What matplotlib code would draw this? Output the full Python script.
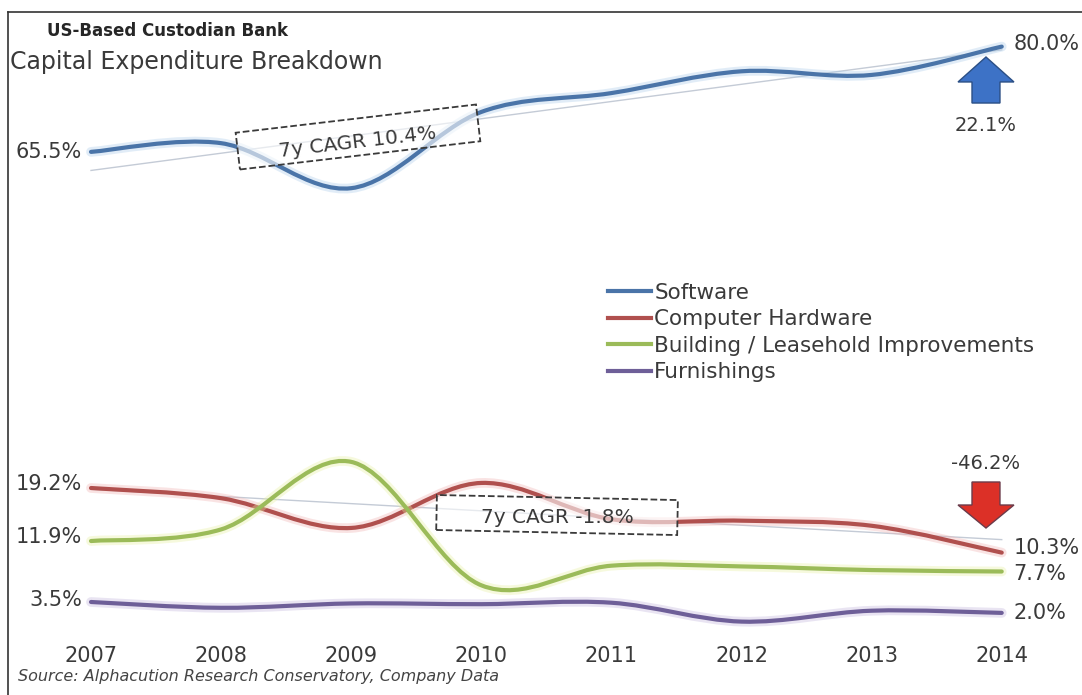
import numpy as np
import matplotlib
matplotlib.use('Agg')
import matplotlib.pyplot as plt
import matplotlib.transforms as mtransforms
import matplotlib.patheffects as pe
from matplotlib.path import Path
from matplotlib.patches import PathPatch, Rectangle, FancyArrow
from matplotlib.lines import Line2D

# data (share of capex, %)
years = [2007, 2008, 2009, 2010, 2011, 2012, 2013, 2014]
software = [65.5, 66.7, 60.5, 71.0, 73.6, 76.6, 76.1, 80.0]
hardware = [19.2, 17.8, 13.7, 19.9, 14.9, 14.7, 14.0, 10.3]
building = [11.9, 13.5, 22.8, 5.8, 8.5, 8.4, 7.9, 7.7]
furnishings = [3.5, 2.7, 3.3, 3.2, 3.4, 0.8, 2.3, 2.0]

series_names = ['Software', 'Computer Hardware', 'Building / Leasehold Improvements', 'Furnishings']
start_labels = ['65.5%', '19.2%', '11.9%', '3.5%']
end_labels = ['80.0%', '10.3%', '7.7%', '2.0%']
cagr_labels = ['7y CAGR 10.4%', '7y CAGR -1.8%']
change_labels = ['22.1%', '-46.2%']

colors = ['#4a74a8', '#b0504e', '#9bbb59', '#6e5f98']
glows = ['#a9cbea', '#f0b0b0', '#e6f0a0', '#c0b4dc']
txt = '#3a3a3a'


def smooth_path(x, y):
    # excel-like smoothed line: catmull-rom turned into cubic beziers
    pts = np.column_stack([x, y]).astype(float)
    ext = np.vstack([pts[0], pts, pts[-1]])
    verts = [pts[0]]
    codes = [Path.MOVETO]
    for i in range(len(pts) - 1):
        p0, p1, p2, p3 = ext[i], ext[i + 1], ext[i + 2], ext[i + 3]
        verts += [p1 + (p2 - p0) / 6, p2 - (p3 - p1) / 6, p2]
        codes += [Path.CURVE4] * 3
    return Path(verts, codes)


fig = plt.figure(figsize=(10.82, 6.95), dpi=100)
ax = fig.add_axes([0, 0, 1, 1])
ax.set_xlim(2006.3005, 2014.617)
ax.set_ylim(-9.31, 86.42)
ax.axis('off')

all_series = [software, hardware, building, furnishings]

# linear trend lines behind software and hardware
for vals in [software, hardware]:
    coef = np.polyfit(years, vals, 1)
    ends = [years[0], years[-1]]
    ax.plot(ends, np.polyval(coef, ends), color='#c4cbd6', lw=1, zorder=2)

for vals, c, g in zip(all_series, colors, glows):
    patch = PathPatch(smooth_path(years, vals), fc='none', ec=c, lw=3, capstyle='round', zorder=3,
                      path_effects=[pe.Stroke(linewidth=7, foreground=g, alpha=0.35), pe.Normal()])
    ax.add_patch(patch)

# start / end value labels
start_dy = [0, 4, 4, 2]
end_dy = [3, 5, -2, 0]
for vals, s, e, sdy, edy in zip(all_series, start_labels, end_labels, start_dy, end_dy):
    ax.annotate(s, (years[0], vals[0]), xytext=(-9, sdy), textcoords='offset pixels',
                ha='right', va='center', fontsize=15, color=txt)
    ax.annotate(e, (years[-1], vals[-1]), xytext=(12, edy), textcoords='offset pixels',
                ha='left', va='center', fontsize=15, color=txt)

# year labels
for yr in years:
    ax.text(yr, -3.9, str(yr), ha='center', va='center', fontsize=15, color=txt)


def cagr_box(x, y, w, h, angle, text, tx, ty, tangle):
    tr = mtransforms.Affine2D().rotate_deg(angle) + mtransforms.ScaledTranslation(x, y, ax.transData)
    ax.add_patch(Rectangle((-w / 2, -h / 2), w, h, transform=tr, fc=(1, 1, 1, 0.6),
                           ec='#3a3a3a', ls='--', lw=1.3, zorder=4))
    ax.text(tx, ty, text, rotation=tangle, rotation_mode='anchor', ha='center', va='center',
            fontsize=14.5, color=txt, zorder=5)


cagr_box(2009.052, 67.55, 242, 37, 6.7, cagr_labels[0], 2009.052, 66.8, 6.7)
cagr_box(2010.582, 15.48, 241, 35, -1.2, cagr_labels[1], 2010.582, 15.2, 0)

# change arrows
ax.add_patch(FancyArrow(2013.879, 72.23, 0, 6.34, width=0.215, head_width=0.43, head_length=3.44,
                        length_includes_head=True, fc='#3d72c6', ec='#2b4f85', lw=1, zorder=5))
ax.add_patch(FancyArrow(2013.879, 20.03, 0, -6.34, width=0.215, head_width=0.43, head_length=3.17,
                        length_includes_head=True, fc='#dc3027', ec='#6b3b4a', lw=1, zorder=5))
ax.text(2013.879, 69.2, change_labels[0], ha='center', va='center', fontsize=14, color=txt)
ax.text(2013.879, 22.6, change_labels[1], ha='center', va='center', fontsize=14, color=txt)

# legend
handles = [Line2D([], [], color=c, lw=3) for c in colors]
leg = ax.legend(handles, series_names, loc='upper left', bbox_to_anchor=(608 / 1082, 1 - 283 / 695),
                bbox_transform=fig.transFigure, frameon=False, fontsize=15.5, handlelength=2.0,
                handletextpad=0.15, labelspacing=0.3, borderpad=0, borderaxespad=0)
for t in leg.get_texts():
    t.set_color(txt)

# titles and source
fig.text(47 / 1082, 1 - 31 / 695, 'US-Based Custodian Bank', fontweight='bold', fontsize=12,
         ha='left', va='center', color='#262626')
fig.text(10 / 1082, 1 - 62 / 695, 'Capital Expenditure Breakdown', fontsize=17,
         ha='left', va='center', color=txt)
fig.text(18 / 1082, 1 - 677 / 695, 'Source: Alphacution Research Conservatory, Company Data',
         style='italic', fontsize=11.5, ha='left', va='center', color='#444444')

# frame on top and left edge
fig.add_artist(Line2D([8 / 1082, 1], [1 - 12 / 695, 1 - 12 / 695], color='#333333', lw=1.2))
fig.add_artist(Line2D([8 / 1082, 8 / 1082], [0, 1 - 12 / 695], color='#333333', lw=1.2))

fig.savefig('out.png', dpi=100)
